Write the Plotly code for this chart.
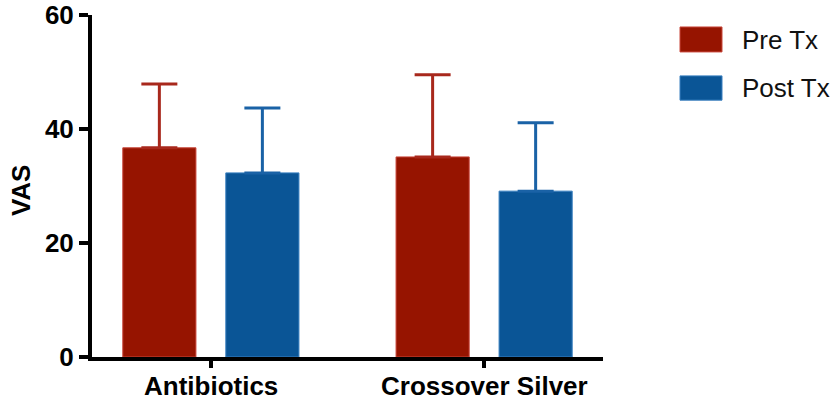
import plotly.graph_objects as go

categories = ["Antibiotics", "Crossover Silver"]
series_names = ["Pre Tx", "Post Tx"]
pre_tx = [36.7, 35.1]
pre_tx_err = [11.2, 14.4]
post_tx = [32.3, 29.1]
post_tx_err = [11.4, 12.0]

bar_colors = ["#961400", "#0a5596"]
edge_colors = ["#c8463a", "#3a80c0"]
err_colors = ["#a8281c", "#1a62a6"]

fig = go.Figure()

for i, (vals, errs) in enumerate([(pre_tx, pre_tx_err), (post_tx, post_tx_err)]):
    fig.add_trace(go.Bar(
        x=categories,
        y=vals,
        name=series_names[i],
        marker=dict(color=bar_colors[i], line=dict(color=edge_colors[i], width=1)),
        error_y=dict(type="data", array=errs, arrayminus=[0, 0], symmetric=False,
                     color=err_colors[i], thickness=3, width=18),
        showlegend=False,
    ))

# legend drawn by hand so the swatches match the big blocks of the original
legend_rows = [(0.965, 0.892, 0.928), (0.822, 0.751, 0.787)]
for i, (y_top, y_bot, y_txt) in enumerate(legend_rows):
    fig.add_shape(type="rect", xref="paper", yref="paper",
                  x0=1.1507, x1=1.2329, y0=y_bot, y1=y_top,
                  fillcolor=bar_colors[i], line=dict(color=edge_colors[i], width=1))
    fig.add_annotation(xref="paper", yref="paper", x=1.268, y=y_txt,
                       text=series_names[i], showarrow=False,
                       xanchor="left", yanchor="middle",
                       font=dict(size=26, color="#111111"))

# category labels placed a little tighter under the axis than plotly's default
for cat in categories:
    fig.add_annotation(xref="x", yref="paper", x=cat, y=-0.036,
                       text=f"<b>{cat}</b>", showarrow=False,
                       xanchor="center", yanchor="top", font=dict(size=26))

# y axis title
fig.add_annotation(xref="paper", yref="paper", x=-0.139, y=0.488,
                   text="<b>VAS</b>", textangle=-90, showarrow=False,
                   xanchor="center", yanchor="middle", font=dict(size=26))

fig.update_layout(
    width=839,
    height=402,
    margin=dict(l=92, r=236, t=15, b=45, autoexpand=False),
    barmode="group",
    bargap=0.246,
    bargroupgap=0.29,
    plot_bgcolor="white",
    paper_bgcolor="white",
    font=dict(family="Liberation Sans, Arial, sans-serif", color="black"),
    xaxis=dict(
        range=[-0.435, 1.435],
        automargin=False,
        showline=True, linecolor="black", linewidth=4,
        ticks="outside", ticklen=7, tickwidth=4, tickcolor="black",
        showticklabels=False,
        showgrid=False, zeroline=False,
    ),
    yaxis=dict(
        range=[0, 60],
        automargin=False,
        tickvals=[0, 20, 40, 60],
        showline=True, linecolor="black", linewidth=4,
        ticks="outside", ticklen=9, tickwidth=4, tickcolor="black",
        tickfont=dict(size=26, weight="bold"),
        showgrid=False, zeroline=False,
    ),
)

# drop the default 8px body margin so the figure fills the window exactly
fig.write_html("out.html", config={"displayModeBar": False},
               post_script="document.body.style.margin='0';")
